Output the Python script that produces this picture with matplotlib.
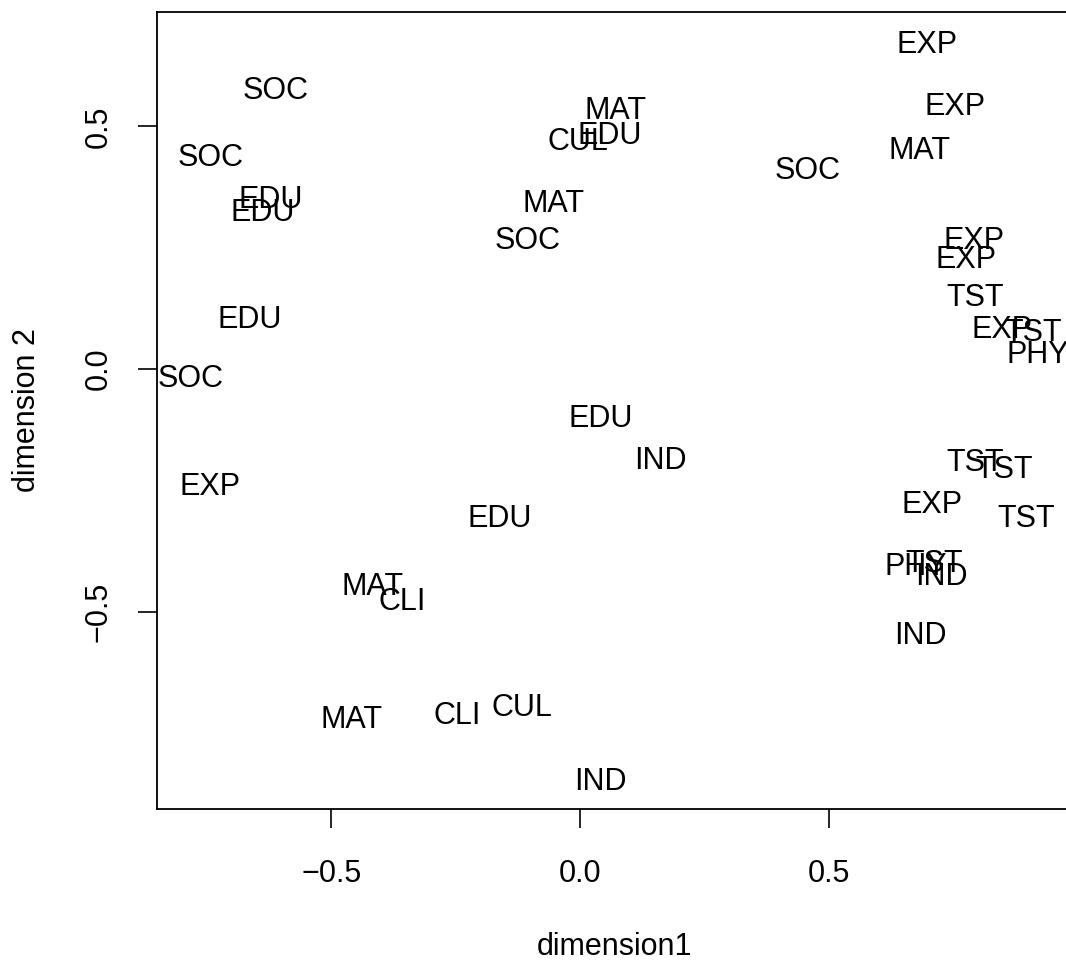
import numpy as np
import matplotlib
matplotlib.use("Agg")
import matplotlib.pyplot as plt
from matplotlib.transforms import offset_copy

# category labels and their positions on the two dimensions
labels = ["EXP", "SOC", "MAT", "EXP", "CUL", "EDU", "SOC", "MAT", "SOC", "EDU",
          "EDU", "MAT", "SOC", "EXP", "EXP", "TST", "EDU", "EXP", "TST", "PHY",
          "SOC", "EDU", "IND", "TST", "TST", "EXP", "EXP", "EDU", "TST", "TST",
          "PHY", "IND", "MAT", "CLI", "IND", "MAT", "CLI", "CUL", "IND"]
dim1 = [0.697, -0.611, 0.071, 0.754, -0.004, 0.059, -0.742, 0.683, 0.458, -0.621,
        -0.637, -0.053, -0.105, 0.792, 0.777, 0.794, -0.664, 0.848, 0.912, 0.920,
        -0.782, 0.042, 0.161, 0.795, 0.852, -0.743, 0.707, -0.162, 0.896, 0.713,
        0.675, 0.727, -0.417, -0.357, 0.685, -0.459, -0.246, -0.117, 0.041]
dim2 = [0.675, 0.580, 0.537, 0.546, 0.475, 0.486, 0.442, 0.456, 0.414, 0.355,
        0.327, 0.346, 0.270, 0.270, 0.230, 0.152, 0.108, 0.086, 0.080, 0.035,
        -0.015, -0.096, -0.183, -0.188, -0.202, -0.238, -0.274, -0.303, -0.302, -0.396,
        -0.402, -0.422, -0.444, -0.475, -0.545, -0.718, -0.710, -0.693, -0.846]

plt.rcParams['font.family'] = ['Liberation Sans', 'DejaVu Sans']

fig = plt.figure(figsize=(10.66, 9.63), dpi=100)
ax = fig.add_axes([157 / 1066, 154 / 963, 914.5 / 1066, 797 / 963])

# shift a little so the capitals sit centred on the point, like R's text()
tr = offset_copy(ax.transData, fig=fig, y=-3, units='dots')
for lab, x, y in zip(labels, dim1, dim2):
    ax.text(x, y, lab, ha='center', va='center', fontsize=22, transform=tr)

# R style 4% padding around the data
x = np.array(dim1)
y = np.array(dim2)
xr = x.max() - x.min()
yr = y.max() - y.min()
ax.set_xlim(x.min() - 0.04 * xr, x.max() + 0.04 * xr)
ax.set_ylim(y.min() - 0.04 * yr, y.max() + 0.04 * yr)

ax.set_xticks([-0.5, 0.0, 0.5])
ax.set_yticks([-0.5, 0.0, 0.5])
ax.set_xticklabels(["\u22120.5", "0.0", "0.5"])
ax.set_yticklabels(["\u22120.5", "0.0", "0.5"], rotation=90, va='center')
ax.tick_params(length=14, width=1.2, labelsize=22)
ax.tick_params(axis='x', pad=22)
ax.tick_params(axis='y', pad=17)
for s in ax.spines.values():
    s.set_linewidth(1.3)

ax.set_xlabel("dimension1", fontsize=22, labelpad=31)
ax.set_ylabel("dimension 2", fontsize=22, labelpad=30)

fig.savefig("out.png", dpi=100)
